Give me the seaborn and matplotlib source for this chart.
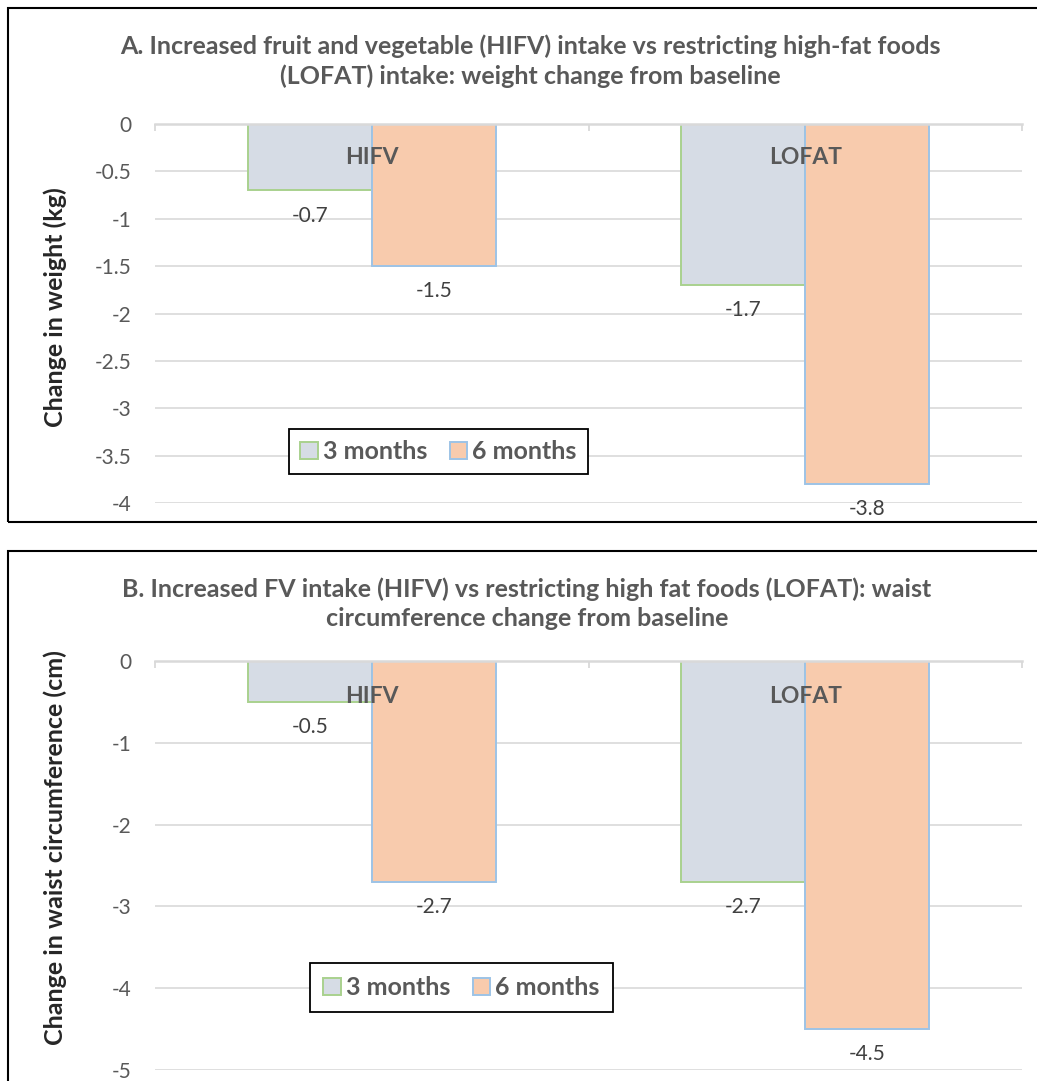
import matplotlib
matplotlib.use("Agg")
import matplotlib.pyplot as plt
from matplotlib.patches import Rectangle
from matplotlib.ticker import FuncFormatter, MultipleLocator
from matplotlib.transforms import blended_transform_factory
import seaborn as sns
import pandas as pd

# ---- data ----
groups = ["HIFV", "LOFAT"]
periods = ["3 months", "6 months"]
weight_3m = [-0.7, -1.7]
weight_6m = [-1.5, -3.8]
waist_3m = [-0.5, -2.7]
waist_6m = [-2.7, -4.5]

title_a = ("A. Increased fruit and vegetable (HIFV) intake vs restricting high-fat foods\n"
           "(LOFAT) intake: weight change from baseline")
title_b = ("B. Increased FV intake (HIFV) vs restricting high fat foods (LOFAT): waist\n"
           "circumference change from baseline")
ylabel_a = "Change in weight (kg)"
ylabel_b = "Change in waist circumference (cm)"

# ---- style ----
sns.set_style("white")
plt.rcParams["font.family"] = ["Lato", "DejaVu Sans"]
plt.rcParams["axes.unicode_minus"] = False

FILL_3M, EDGE_3M = "#D6DCE5", "#A9D18E"
FILL_6M, EDGE_6M = "#F8CBAD", "#9DC3E6"
GRID = "#D9D9D9"
TEXT_GRAY = "#595959"
LABEL_GRAY = "#404040"

W, H = 1037, 1081
fig = plt.figure(figsize=(W / 100, H / 100), dpi=100)


def frac_x(px):
    return px / W


def frac_y(py):
    return 1 - py / H


def panel(ax_box, v3, v6, ymin, ystep, title, title_xy, ylabel, ylabel_y,
          legend_xy, legend_pad):
    ax = fig.add_axes(ax_box)
    df = pd.DataFrame({
        "group": groups * 2,
        "period": [periods[0]] * len(groups) + [periods[1]] * len(groups),
        "value": list(v3) + list(v6),
    })
    sns.barplot(data=df, x="group", y="value", hue="period", hue_order=periods,
                palette=[FILL_3M, FILL_6M], saturation=1, width=0.572,
                errorbar=None, legend=False, ax=ax)
    for cont, ec in zip(ax.containers, [EDGE_3M, EDGE_6M]):
        for bar in cont:
            bar.set_edgecolor(ec)
            bar.set_linewidth(1.4)
            bar.set_zorder(2)
        ax.bar_label(cont, fmt="%.1f", padding=11, color=LABEL_GRAY, fontsize=15)

    ax.set_xlim(-0.5, 1.5)
    ax.set_ylim(ymin, 0)
    ax.yaxis.set_major_locator(MultipleLocator(ystep))
    ax.yaxis.set_major_formatter(FuncFormatter(lambda v, p: "0" if abs(v) < 1e-9 else f"{v:g}"))
    ax.yaxis.grid(True, color=GRID, lw=1.2)
    ax.set_axisbelow(True)
    ax.tick_params(axis="y", length=0, pad=17, labelsize=15, labelcolor=TEXT_GRAY)

    # category axis sits on the zero line at the top; its labels go just below it
    ax.xaxis.tick_top()
    ax.set_xticks([0, 1])
    ax.set_xticklabels([])
    ax.set_xticks([-0.5, 0.5, 1.5], minor=True)
    ax.tick_params(axis="x", which="major", length=0)
    ax.tick_params(axis="x", which="minor", length=5, width=1.3, direction="in", color=GRID)
    ax.set_xlabel("")
    cat_tr = blended_transform_factory(ax.transData, ax.transAxes)
    for i, g in enumerate(groups):
        ax.text(i, 0.912, g, transform=cat_tr, ha="center", va="center",
                fontsize=16.5, fontweight="bold", color=TEXT_GRAY, zorder=5)

    for side in ["left", "right", "bottom"]:
        ax.spines[side].set_visible(False)
    ax.spines["top"].set_color(GRID)
    ax.spines["top"].set_linewidth(1.8)

    ax.set_ylabel(ylabel, fontsize=18, fontweight="bold", color="#262626")
    ax.yaxis.label.set_va("center")
    ax.yaxis.set_label_coords(-0.115, ylabel_y)

    fig.text(title_xy[0], title_xy[1], title, ha="center", va="center",
             fontsize=18, fontweight="bold", color=TEXT_GRAY, linespacing=1.3)

    leg = ax.legend(handles=ax.containers, labels=periods, loc="center",
                    bbox_to_anchor=legend_xy, bbox_transform=fig.transFigure,
                    ncol=2, frameon=True, fancybox=False, framealpha=1,
                    edgecolor="black", handlelength=0.7, handleheight=0.7,
                    handletextpad=0.2, columnspacing=0.9, borderpad=legend_pad,
                    prop={"size": 18, "weight": "bold"}, labelcolor=TEXT_GRAY)
    leg.get_frame().set_linewidth(1.3)
    return ax


# panel A
panel([frac_x(155), frac_y(503), frac_x(1022) - frac_x(155), frac_y(124) - frac_y(503)],
      weight_3m, weight_6m, -4, 0.5, title_a, (frac_x(530), frac_y(61)), ylabel_a, 0.517,
      (frac_x(438.5), frac_y(451.5)), 0.45)

# panel B
panel([frac_x(155), frac_y(1070), frac_x(1022) - frac_x(155), frac_y(661) - frac_y(1070)],
      waist_3m, waist_6m, -5, 1, title_b, (frac_x(527), frac_y(603.5)), ylabel_b, 0.545,
      (frac_x(461.5), frac_y(987.5)), 0.52)

# outer panel frames
fig.add_artist(Rectangle((frac_x(8), frac_y(522)), 1.2, frac_y(8) - frac_y(522),
                         transform=fig.transFigure, fill=False, ec="black", lw=1.5))
fig.add_artist(Rectangle((frac_x(8), -0.1), 1.2, frac_y(551) + 0.1,
                         transform=fig.transFigure, fill=False, ec="black", lw=1.5))

fig.savefig("out.png", dpi=100, facecolor="white")
